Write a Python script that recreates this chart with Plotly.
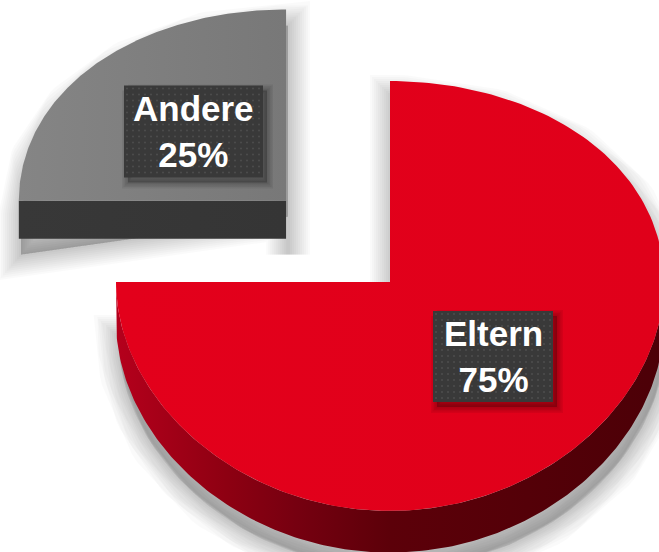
import numpy as np
import plotly.graph_objects as go

# ---- data ----
labels = ["Eltern", "Andere"]
values = [75, 25]
pulls = [0.0, 0.55]
top_scales = [
    [[0, "#E3001B"], [1, "#E0001A"]],
    [[0, "#858585"], [1, "#787878"]],
]
side_scales = [
    [[0, "#B5001C"], [0.2, "#8E0012"], [0.33, "#760010"], [0.5, "#5C0009"], [1, "#4C0007"]],
    [[0, "#383838"], [1, "#353535"]],
]

# ---- projection (pseudo 3D, screen pixel units) ----
W, H = 659, 552
CX, CY = 390, 282
RX, RY = 274, 214
K = 0.065
DROP = 39


def make_proj(V0):
    ws = 1 - K * V0  # farther slices appear a bit narrower

    def proj(U, V, drop=0.0):
        U = np.asarray(U, float)
        V = np.asarray(V, float)
        w = 1 - K * V
        return CX + RX * U / ws, CY + (RY * V + drop) / w
    return proj


total = sum(values)
starts = np.cumsum([0] + values[:-1]) / total * 360
ends = np.cumsum(values) / total * 360


def arc(t0, t1, n=200):
    t = np.radians(np.linspace(t0, t1, n))
    return np.sin(t), -np.cos(t)


slices = []
for i in range(len(values)):
    t0, t1 = starts[i], ends[i]
    mid = np.radians((t0 + t1) / 2)
    slices.append((t0, t1, pulls[i] * np.sin(mid), -pulls[i] * np.cos(mid)))


def silhouette(t0, t1, U0, V0):
    proj = make_proj(V0)
    xs, ys = [], []
    x, y = proj(U0, V0)
    xs.append(float(x)); ys.append(float(y))
    su, sv = arc(t0, t1)
    for u, v in zip(su, sv):
        x, y = proj(U0 + u, V0 + v, DROP if v > 0 else 0)
        xs.append(float(x)); ys.append(float(y))
    x, y = proj(U0 + su[-1], V0 + sv[-1], DROP)
    xs.append(float(x)); ys.append(float(y))
    x, y = proj(U0, V0, DROP)
    xs.append(float(x)); ys.append(float(y))
    xs.append(xs[0]); ys.append(ys[0])
    return xs, ys


fig = go.Figure()


def soft_shadow(xs, ys, dx, dy, layers, step, alpha):
    xs = [x + dx for x in xs]
    ys = [y + dy for y in ys]
    for g in range(layers, 0, -1):
        fig.add_trace(go.Scatter(x=xs, y=ys, fill="toself", mode="lines",
                                 line=dict(width=step * g, color=f"rgba(0,0,0,{alpha})"),
                                 fillcolor=f"rgba(0,0,0,{alpha})", hoverinfo="skip"))


# soft shadows cast below the slices
for (t0, t1, U0, V0) in slices:
    xs, ys = silhouette(t0, t1, U0, V0)
    soft_shadow(xs, ys, 2, 16, 11, 4, 0.021)

# slices: back one (Andere) first
for i in [1, 0]:
    t0, t1, U0, V0 = slices[i]
    proj = make_proj(V0)
    if i == 1:
        ux, uy = proj([U0, U0 - 1, U0 - 1, U0, U0], [V0, V0, V0, V0, V0],
                      [0, 0, DROP, DROP, 0])
        sx, sy = list(ux), list(uy)
    else:
        su, sv = arc(max(t0, 90), min(t1, 270))
        xt, yt = proj(U0 + su, V0 + sv)
        xb, yb = proj(U0 + su, V0 + sv, DROP)
        sx = list(xt) + list(xb[::-1])
        sy = list(yt) + list(yb[::-1])
    fig.add_trace(go.Scatter(x=sx, y=sy, fill="toself", mode="lines",
                             line=dict(width=0),
                             fillgradient=dict(type="horizontal", colorscale=side_scales[i]),
                             hoverinfo="skip"))
    su, sv = arc(t0, t1)
    xt, yt = proj(U0 + su, V0 + sv)
    ax, ay = proj(U0, V0)
    fig.add_trace(go.Scatter(x=[float(ax)] + list(xt) + [float(ax)],
                             y=[float(ay)] + list(yt) + [float(ay)],
                             fill="toself", mode="lines", line=dict(width=0),
                             fillgradient=dict(type="horizontal", colorscale=top_scales[i]),
                             hoverinfo="skip", name=labels[i]))

# label boxes (center x, center y, width, height) in screen pixels
label_boxes = {
    "Andere": (193.5, 131.5, 139, 92),
    "Eltern": (493, 356.5, 120, 91),
}
for lab, val in zip(labels, values):
    bx, by, bw, bh = label_boxes[lab]
    x0, x1, y0, y1 = bx - bw / 2, bx + bw / 2, by - bh / 2, by + bh / 2
    rx = [x0, x1, x1, x0, x0]
    ry = [y0, y0, y1, y1, y0]
    soft_shadow(rx, ry, 4, 5, 4, 3, 0.06)
    fig.add_trace(go.Scatter(x=rx, y=ry, fill="toself", mode="lines", line=dict(width=0),
                             fillcolor="#393939", hoverinfo="skip"))
    gx, gy = np.meshgrid(np.arange(x0 + 3, x1 - 1, 6), np.arange(y0 + 3, y1 - 1, 6))
    fig.add_trace(go.Scatter(x=gx.ravel(), y=gy.ravel(), mode="markers",
                             marker=dict(size=2, color="#4E4E4E", line=dict(width=0)),
                             hoverinfo="skip"))
    fig.add_annotation(x=bx, y=by, xref="x", yref="y", text=f"<b>{lab}<br>{val}%</b>",
                       showarrow=False, xanchor="center", yanchor="middle", align="center",
                       font=dict(family="Liberation Sans, Arial, sans-serif", size=35,
                                 color="white"))

fig.update_layout(
    width=W, height=H, autosize=False,
    margin=dict(l=0, r=0, t=0, b=0),
    paper_bgcolor="white", plot_bgcolor="white",
    showlegend=False, hovermode=False,
    xaxis=dict(range=[0, W], visible=False, fixedrange=True),
    yaxis=dict(range=[H, 0], visible=False, fixedrange=True),
)

fig.write_html("out.html", config={"displayModeBar": False, "staticPlot": True},
               post_script="document.body.style.margin='0';document.body.style.overflow='hidden';")
